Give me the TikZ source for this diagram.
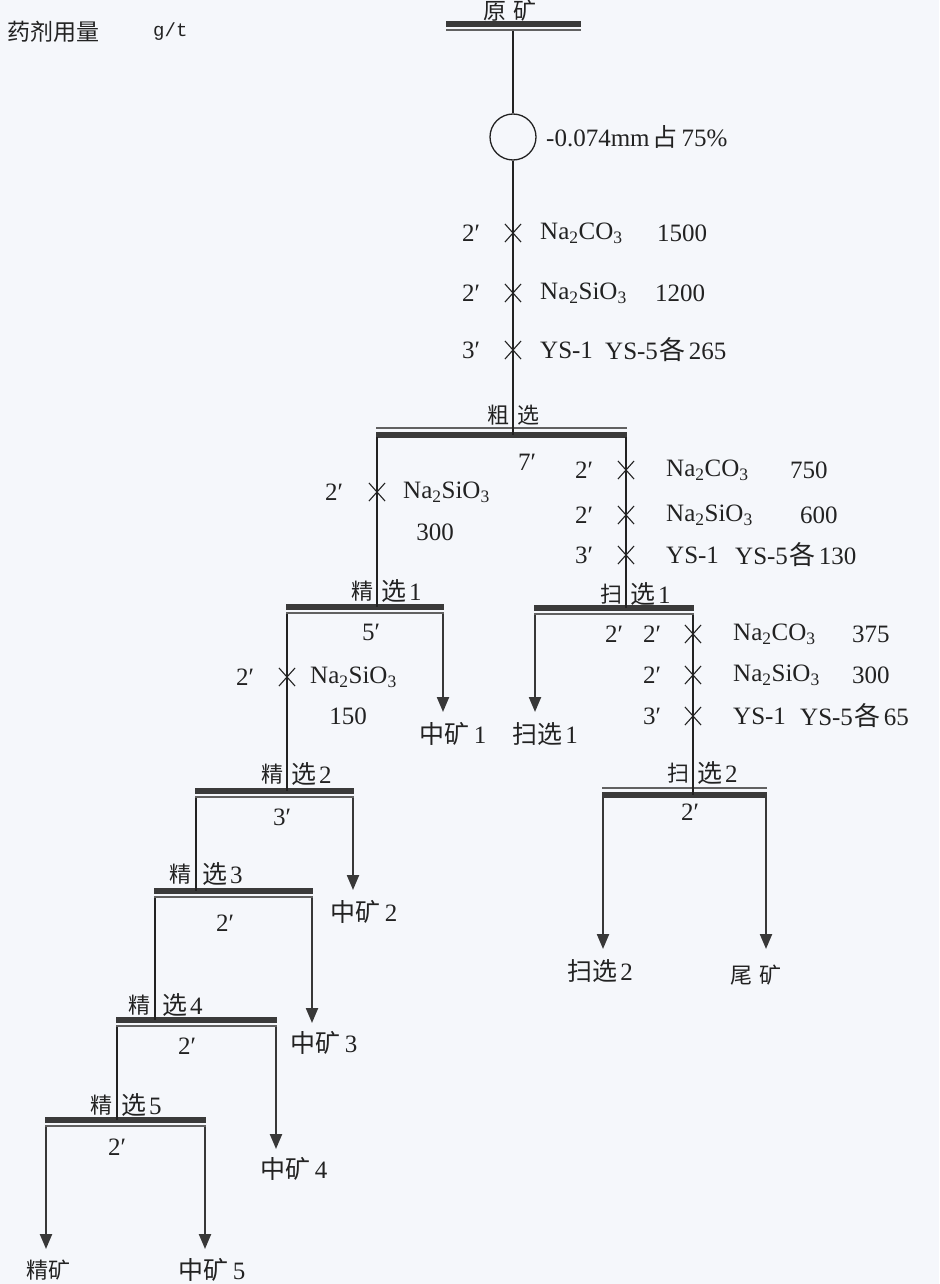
\documentclass[tikz,border=0pt]{standalone}
\usepackage{fontspec}
\setmainfont{Liberation Serif}
\newfontfamily\cjk{Noto Sans CJK SC}
\newfontfamily\monof{Liberation Mono}
\usetikzlibrary{arrows.meta,shapes.misc}
\definecolor{bg}{HTML}{F5F7FB}
\definecolor{ink}{HTML}{222222}
\definecolor{barc}{HTML}{3A3A3A}
\newcommand\barA[4]{% thick on top, thin below
  \draw[thickbar] (#2-1,#4) -- (#3+1,#4);
  \draw[thinbar] (#2-1,#4+6) -- (#3+1,#4+6);
  \coordinate (#1-t) at (0,#4);
  \coordinate (#1-l) at (#2,#4+7);
  \coordinate (#1-r) at (#3,#4+7);}
\newcommand\barB[4]{% thin on top, thick below
  \draw[thinbar] (#2-1,#4) -- (#3+1,#4);
  \draw[thickbar] (#2-1,#4+7) -- (#3+1,#4+7);
  \coordinate (#1-t) at (0,#4+7);
  \coordinate (#1-l) at (#2,#4+9);
  \coordinate (#1-r) at (#3,#4+9);}
\newcommand\Na[2]{Na\textsubscript{2}#1O\textsubscript{#2}}
\newcommand\geach[1]{\hspace{2pt}{\cjk\fontsize{26}{28}\selectfont 各}\hspace{3pt}#1}
\begin{document}
\begin{tikzpicture}[x=1pt,y=-1pt,
  every node/.style={inner sep=0pt, text=ink, font=\fontsize{25}{27}\selectfont},
  cn/.style={font=\cjk\fontsize{22}{24}\selectfont},
  ln/.style={line width=1.4pt, draw=ink},
  arr/.style={line width=2.2pt, draw=ink!90, -{Triangle[length=15pt,width=12pt]}},
  thickbar/.style={line width=5.5pt, draw=barc},
  thinbar/.style={line width=1.6pt, draw=barc!80},
  xmark/.style={cross out, draw=ink, line width=1.1pt, minimum width=15pt, minimum height=17pt, inner sep=0pt},
]
\fill[bg] (0,0) rectangle (939,1284);
\useasboundingbox (0,0) rectangle (939,1284);

% header
\node[cn,anchor=west,font=\cjk\fontsize{23}{24}\selectfont] (hdr) at (7,32) {药剂用量};
\node[anchor=west,font=\monof\fontsize{19}{22}\selectfont] (gt) at (153,32) {g/t};

% raw ore
\node[cn,font=\cjk\fontsize{23}{24}\selectfont] (ore) at (510,11) {原\hspace{7pt}矿};
\barA{ob}{447}{580}{24}
\coordinate (ore-out) at (513,31);

% grinding
\node[circle, draw=ink, line width=1.3pt, minimum size=46pt, fill=bg] (mill) at (513,137) {};
\node[anchor=west] (millt) at (546,137) {-0.074mm\hspace{3pt}{\cjk 占}\hspace{4pt}75\%};

% roughing
\barB{cx}{377}{626}{428}
\coordinate (cx-in) at (513,435);
\draw[ln] (ore-out) -- (mill.north);
\draw[ln] (mill.south) -- (cx-in);
\node[cn,anchor=east] (cxa) at (510,415) {粗};
\node[cn,anchor=west] (cxb) at (517,415) {选};
\node (cxt) at (527,462) {7′};

% reagents before roughing
\foreach \yy/\tt [count=\i] in {233/2′,293/2′,350/3′}{
  \node[xmark] (m\i) at (513,\yy) {};
  \node (mt\i) at (471,\yy) {\tt};
}
\node[anchor=west] (r1a) at (540,233) {\Na{C}{3}};
\node[anchor=west] (r1b) at (657,233) {1500};
\node[anchor=west] (r2a) at (540,293) {\Na{Si}{3}};
\node[anchor=west] (r2b) at (655,293) {1200};
\node[anchor=west] (r3a) at (540,350) {YS-1};
\node[anchor=west] (r3b) at (605,350) {YS-5\geach{265}};

% cleaner 1
\barA{j1}{287}{443}{607}
\coordinate (j1-in) at (377,607);
\draw[ln] (cx-l) -- (j1-in);
\node[xmark] (c1x) at (377,492) {};
\node (c1t) at (334,492) {2′};
\node[anchor=west] (c1a) at (403,492) {\Na{Si}{3}};
\node (c1b) at (435,532) {300};
\node[cn,anchor=east] (j1a) at (374,591) {精};
\node[anchor=west] (j1b) at (381,591) {{\cjk 选}\hspace{3pt}1};
\node (j1t) at (371,632) {5′};

% scavenger 1
\barA{s1}{535}{693}{608}
\coordinate (s1-in) at (626,608);
\draw[ln] (cx-r) -- (s1-in);
\foreach \yy/\tt [count=\i] in {470/2′,515/2′,555/3′}{
  \node[xmark] (sx\i) at (626,\yy) {};
  \node (sxt\i) at (584,\yy) {\tt};
}
\node[anchor=west] (s1r1a) at (666,470) {\Na{C}{3}};
\node[anchor=west] (s1r1b) at (790,470) {750};
\node[anchor=west] (s1r2a) at (666,515) {\Na{Si}{3}};
\node[anchor=west] (s1r2b) at (800,515) {600};
\node[anchor=west] (s1r3a) at (666,555) {YS-1};
\node[anchor=west] (s1r3b) at (735,555) {YS-5\geach{130}};
\node[cn,anchor=east] (s1a) at (623,594) {扫};
\node[anchor=west] (s1b) at (630,594) {{\cjk 选}\hspace{3pt}1};
\node (s1t) at (614,634) {2′};

% cleaner 1 outputs
\coordinate (m1-end) at (443,712);
\draw[arr] (j1-r) -- (m1-end);
\node (zk1) at (453,734) {{\cjk 中矿}\hspace{4pt}1};
\coordinate (sc1-end) at (535,712);
\draw[arr] (s1-l) -- (sc1-end);
\node (sc1) at (545,734) {{\cjk 扫选}\hspace{3pt}1};

% reagents before cleaner 2
\node[xmark] (c2x) at (287,677) {};
\node (c2t) at (245,677) {2′};
\node[anchor=west] (c2a) at (310,677) {\Na{Si}{3}};
\node (c2b) at (348,716) {150};

% reagents before scavenger 2
\foreach \yy/\tt [count=\i] in {634/2′,675/2′,716/3′}{
  \node[xmark] (sy\i) at (693,\yy) {};
  \node (syt\i) at (652,\yy) {\tt};
}
\node[anchor=west] (s2r1a) at (733,634) {\Na{C}{3}};
\node[anchor=west] (s2r1b) at (852,634) {375};
\node[anchor=west] (s2r2a) at (733,675) {\Na{Si}{3}};
\node[anchor=west] (s2r2b) at (852,675) {300};
\node[anchor=west] (s2r3a) at (733,716) {YS-1};
\node[anchor=west] (s2r3b) at (800,716) {YS-5\geach{65}};

% scavenger 2
\barB{s2}{603}{766}{788}
\coordinate (s2-in) at (693,795);
\draw[ln] (s1-r) -- (s2-in);
\node[cn,anchor=east] (s2a) at (690,773) {扫};
\node[anchor=west] (s2b) at (697,773) {{\cjk 选}\hspace{3pt}2};
\node (s2t) at (690,812) {2′};
\coordinate (sc2-end) at (603,949);
\coordinate (tail-end) at (766,949);
\draw[arr] (s2-l) -- (sc2-end);
\draw[arr] (s2-r) -- (tail-end);
\node (sc2) at (600,971) {{\cjk 扫选}\hspace{3pt}2};
\node[cn] (tail) at (756,975) {尾\hspace{7pt}矿};

% cleaner 2
\barA{j2}{196}{353}{791}
\coordinate (j2-in) at (287,791);
\draw[ln] (j1-l) -- (j2-in);
\node[cn,anchor=east] (j2a) at (284,774) {精};
\node[anchor=west] (j2b) at (291,774) {{\cjk 选}\hspace{3pt}2};
\node (j2t) at (282,817) {3′};
\coordinate (m2-end) at (353,890);
\draw[arr] (j2-r) -- (m2-end);
\node (zk2) at (364,912) {{\cjk 中矿}\hspace{4pt}2};

% cleaner 3
\barA{j3}{155}{312}{891}
\coordinate (j3-in) at (196,891);
\draw[ln] (j2-l) -- (j3-in);
\node[cn,anchor=east] (j3a) at (192,874) {精};
\node[anchor=west] (j3b) at (202,874) {{\cjk 选}\hspace{3pt}3};
\node (j3t) at (225,923) {2′};
\coordinate (m3-end) at (312,1023);
\draw[arr] (j3-r) -- (m3-end);
\node (zk3) at (324,1043) {{\cjk 中矿}\hspace{4pt}3};

% cleaner 4
\barA{j4}{117}{276}{1020}
\coordinate (j4-in) at (155,1020);
\draw[ln] (j3-l) -- (j4-in);
\node[cn,anchor=east] (j4a) at (151,1005) {精};
\node[anchor=west] (j4b) at (162,1005) {{\cjk 选}\hspace{3pt}4};
\node (j4t) at (187,1046) {2′};
\coordinate (m4-end) at (276,1149);
\draw[arr] (j4-r) -- (m4-end);
\node (zk4) at (294,1169) {{\cjk 中矿}\hspace{4pt}4};

% cleaner 5
\barA{j5}{46}{205}{1120}
\coordinate (j5-in) at (117,1120);
\draw[ln] (j4-l) -- (j5-in);
\node[cn,anchor=east] (j5a) at (113,1105) {精};
\node[anchor=west] (j5b) at (121,1105) {{\cjk 选}\hspace{3pt}5};
\node (j5t) at (117,1147) {2′};
\coordinate (conc-end) at (46,1249);
\coordinate (m5-end) at (205,1249);
\draw[arr] (j5-l) -- (conc-end);
\draw[arr] (j5-r) -- (m5-end);
\node[cn] (conc) at (48,1270) {精矿};
\node (zk5) at (212,1270) {{\cjk 中矿}\hspace{4pt}5};
\end{tikzpicture}
\end{document}
